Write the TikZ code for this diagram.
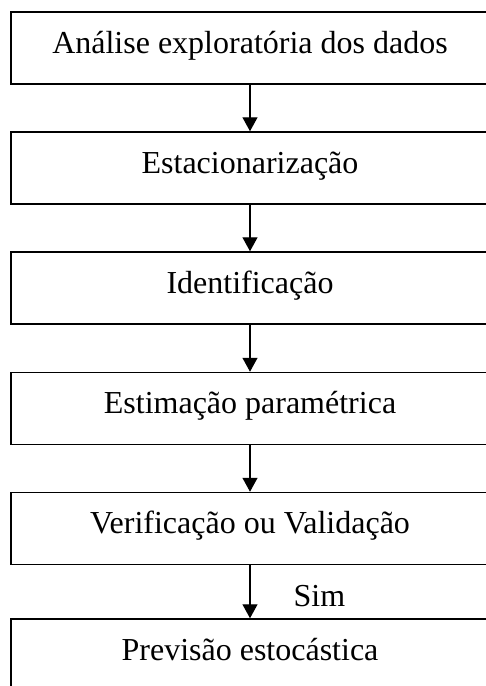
\documentclass[tikz,border=0pt]{standalone}
\usepackage{fontspec}
\setmainfont{Liberation Serif}
\usetikzlibrary{arrows.meta}

\tikzset{
  etapa/.style={draw, line width=1.5pt, rectangle, minimum width=478pt,
    minimum height=72pt, inner sep=0pt, text height=22pt, text depth=12pt,
    font=\fontsize{32pt}{38pt}\selectfont},
  seta/.style={line width=1.3pt, -{Triangle[width=15pt,length=14pt]}},
  rotulo/.style={font=\fontsize{32pt}{38pt}\selectfont, inner sep=0pt}
}

\begin{document}
\begin{tikzpicture}[x=1pt,y=-1pt]
\useasboundingbox (0,0) rectangle (486,686);
\clip (0,0) rectangle (486,686);
% etapas
\node[etapa] (analise) at (250,48) {Análise exploratória dos dados};
\node[etapa] (estac) at (250,168) {Estacionarização};
\node[etapa] (ident) at (250,288) {Identificação};
\node[etapa] (estim) at (250,408.5) {Estimação paramétrica};
\node[etapa] (verif) at (250,528.5) {Verificação ou Validação};
\node[etapa] (prev) at (250,655) {Previsão estocástica};
% setas
\draw[seta] (analise.south) -- (estac.north);
\draw[seta] (estac.south) -- (ident.north);
\draw[seta] (ident.south) -- (estim.north);
\draw[seta] (estim.south) -- (verif.north);
\draw[seta] (verif.south) -- node[rotulo, pos=0.78, anchor=base west, xshift=43pt] {Sim} (prev.north);
\end{tikzpicture}
\end{document}
